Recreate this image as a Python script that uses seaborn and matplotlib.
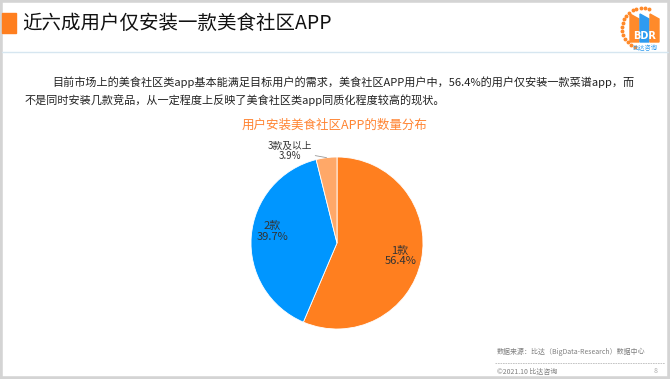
import numpy as np
import matplotlib.pyplot as plt
import matplotlib.patches as mpatches
import seaborn as sns

# data
categories = ["1款", "2款", "3款及以上"]
shares = [56.4, 39.7, 3.9]
slice_colors = ["#FF7F1F", "#0096FF", "#FFA868"]

title = "近六成用户仅安装一款美食社区APP"
para1 = "目前市场上的美食社区类app基本能满足目标用户的需求，美食社区APP用户中，56.4%的用户仅安装一款菜谱app，而"
para2 = "不是同时安装几款竞品，从一定程度上反映了美食社区类app同质化程度较高的现状。"
chart_title = "用户安装美食社区APP的数量分布"
source = "数据来源：比达（BigData-Research）数据中心"
footer = "©2021.10 比达咨询"
page = "8"

sns.set_theme(style="white")
plt.rcParams['font.family'] = ['Noto Sans CJK SC', 'DejaVu Sans']

W, H = 670, 379
fig = plt.figure(figsize=(W / 100, H / 100), dpi=100)
fig.patch.set_facecolor("white")


def px(x, y):
    return x / W, 1 - y / H


# slide frame
fig.patches.append(mpatches.Rectangle((0, 0), 1, 1, transform=fig.transFigure,
                                      fill=False, edgecolor="#d4d4d4", linewidth=4))
# header
fig.patches.append(mpatches.Rectangle(px(2, 33), 14 / W, 20 / H, transform=fig.transFigure,
                                      color="#FF7F1F"))
fig.text(*px(22, 23), title, fontsize=14, color="#111111", va="center", ha="left")
fig.add_artist(plt.Line2D([2 / W, 1 - 2 / W], [1 - 52 / H] * 2, color="#d6e6f0", lw=1))

# logo
lx, ly = 642, 28
ang = np.linspace(np.deg2rad(70), np.deg2rad(250), 16)
fig.add_artist(plt.Line2D((lx + 20 * np.cos(ang)) / W, 1 - (ly - 20 * np.sin(ang)) / H,
                          ls="none", marker="o", ms=1.8, color="#FF8A2A"))
for i, c in enumerate(["#FF8A2A", "#2E9BF0", "#FF8A2A"]):
    x0 = 630 + i * 10
    poly = mpatches.Polygon([px(x0, 42), px(x0, 14), px(x0 + 9, 19), px(x0 + 9, 42)],
                            closed=True, transform=fig.transFigure, color=c)
    fig.patches.append(poly)
fig.text(*px(645, 36), "BDR", fontsize=7, color="white", ha="center", va="center",
         family="DejaVu Sans", fontweight="bold")
fig.text(*px(645, 48), "比达咨询", fontsize=4.5, color="#2E9BF0", ha="center", va="center")

# paragraph
fig.text(*px(52, 82), para1, fontsize=8, color="#222222", va="center", ha="left")
fig.text(*px(25, 100), para2, fontsize=8, color="#222222", va="center", ha="left")

# chart title
fig.text(*px(335, 125), chart_title, fontsize=9, color="#FF8432", va="center", ha="center")

# pie
cx, cy, r = 337, 243, 86
ax = fig.add_axes([(cx - r) / W, (H - cy - r) / H, 2 * r / W, 2 * r / H])
labels = [f"{c}\n{s}%" for c, s in zip(categories, shares)]
wedges, texts = ax.pie(shares, colors=slice_colors, startangle=90, counterclock=False,
                       labels=labels[:2] + [""], labeldistance=0.75,
                       wedgeprops=dict(edgecolor="white", linewidth=0.6),
                       textprops=dict(fontsize=8, color="#333333"))
for t in texts:
    t.set_ha("center")
    t.set_va("center")
    t.set_linespacing(1.1)
x2, y2 = texts[1].get_position()
texts[1].set_position((x2, y2 + 0.08))
w = wedges[2]
mid = np.deg2rad((w.theta1 + w.theta2) / 2)
ax.annotate(labels[2], xy=(np.cos(mid), np.sin(mid)), xytext=(-0.55, 1.07),
            ha="center", va="center", fontsize=7, color="#333333", linespacing=1.1,
            arrowprops=dict(arrowstyle="-", color="#999999", lw=0.6,
                            shrinkA=0, shrinkB=0))
ax.set_xlim(-1, 1)
ax.set_ylim(-1, 1)
ax.set_aspect("equal")
ax.axis("off")

# footer
fig.text(*px(497, 352), source, fontsize=5, color="#7f7f7f", va="center", ha="left")
fig.add_artist(plt.Line2D([495 / W, 665 / W], [1 - 363 / H] * 2, color="#bbbbbb",
                          lw=0.6, ls=(0, (2, 1))))
fig.text(*px(497, 372), footer, fontsize=5, color="#7f7f7f", va="center", ha="left")
fig.text(*px(656, 371), page, fontsize=5, color="#aaaaaa", va="center", ha="center")

fig.savefig("out.png", dpi=100)
